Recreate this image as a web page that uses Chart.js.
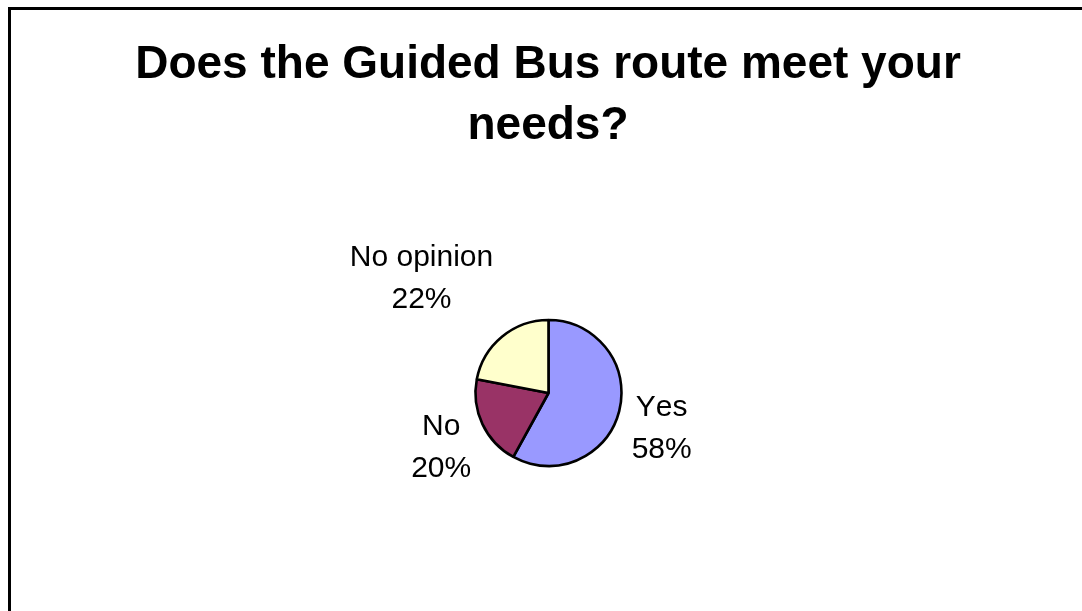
<!DOCTYPE html>
<html>
<head>
<meta charset="utf-8">
<script src="https://cdn.jsdelivr.net/npm/chart.js@4/dist/chart.umd.min.js"></script>
<style>
  html, body { margin: 0; padding: 0; background: #fff; overflow: hidden; }
  body { width: 1082px; height: 611px; position: relative; }
  #frame { position: absolute; left: 8px; top: 7px; width: 1200px; height: 800px; border: 3px solid #000; box-sizing: border-box; }
  #wrap { position: absolute; left: 0; top: 0; width: 1082px; height: 611px; }
</style>
</head>
<body>
<div id="frame"></div>
<div id="wrap"><canvas id="c" width="1082" height="611"></canvas></div>
<script>
const titleLines = ["Does the Guided Bus route meet your", "needs?"];
const categories = ["Yes", "No", "No opinion"];
const values = [58, 20, 22];
const sliceColors = ["#9999FF", "#993366", "#FFFFCC"];

const FONT = '"Liberation Sans", Arial, sans-serif';

const decor = {
  id: 'decor',
  afterDraw(chart, args, opts) {
    const ctx = chart.ctx;
    ctx.save();
    if ('fontKerning' in ctx) ctx.fontKerning = 'none';
    ctx.fillStyle = '#000';
    ctx.textAlign = 'center';
    ctx.textBaseline = 'alphabetic';
    // title
    ctx.font = 'bold 46px ' + FONT;
    titleLines.forEach((t, i) => ctx.fillText(t, opts.titleX, opts.titleY + i * opts.titleLH));
    // slice labels
    const meta = chart.getDatasetMeta(0);
    const total = values.reduce((a, b) => a + b, 0);
    ctx.font = '30px ' + FONT;
    meta.data.forEach((arc, i) => {
      const r = arc.outerRadius;
      const off = opts.labelOffsets[i];
      const x = arc.x + off[0] * r;
      const y = arc.y + off[1] * r;
      const pct = Math.round(values[i] / total * 100) + '%';
      ctx.fillText(categories[i], x, y);
      ctx.fillText(pct, x, y + opts.labelLH);
    });
    ctx.restore();
  }
};

new Chart(document.getElementById('c'), {
  type: 'pie',
  data: {
    labels: categories,
    datasets: [{
      data: values,
      backgroundColor: sliceColors,
      borderColor: '#000',
      borderWidth: 2.6,
      hoverOffset: 0
    }]
  },
  options: {
    responsive: false,
    animation: false,
    events: [],
    radius: 73,
    layout: { padding: { left: 448, right: 433, top: 293, bottom: 118 } },
    plugins: {
      legend: { display: false },
      tooltip: { enabled: false },
      title: { display: false },
      decor: {
        titleX: 548, titleY: 78, titleLH: 61,
        labelLH: 42,
        labelOffsets: [[1.55, 0.31], [-1.47, 0.57], [-1.74, -1.74]]
      }
    }
  },
  plugins: [decor]
});
</script>
</body>
</html>
